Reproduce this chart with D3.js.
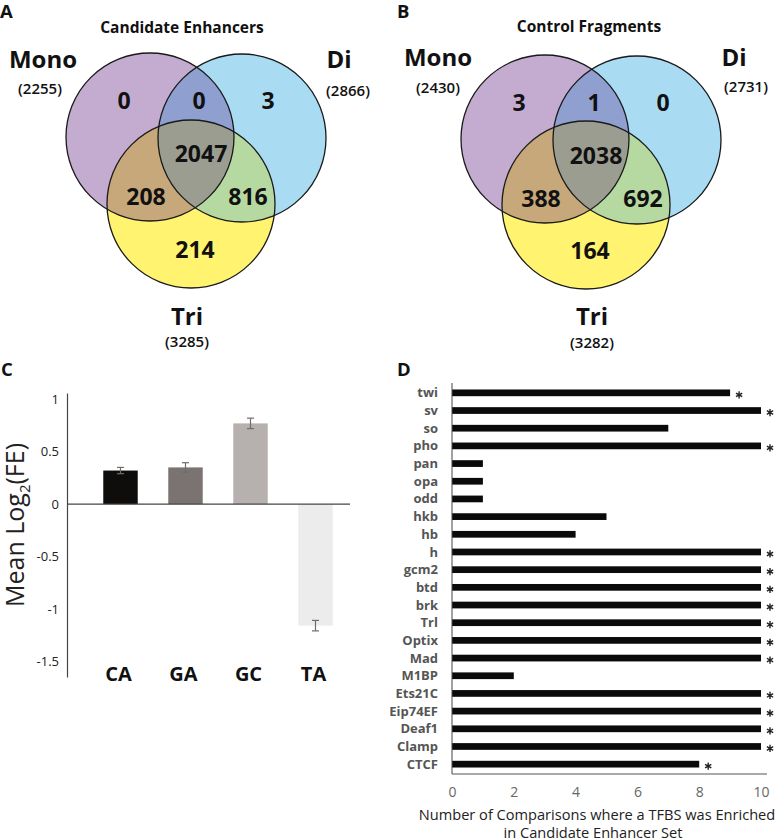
<!DOCTYPE html>
<html>
<head>
<meta charset="utf-8">
<script src="https://cdn.jsdelivr.net/npm/d3@7"></script>
<style>
  body { margin: 0; background: #fff; }
  svg { display: block; font-family: "Open Sans", "Liberation Sans", sans-serif; }
</style>
</head>
<body>
<script>
// ---- data ----
var setNames = ["Mono", "Di", "Tri"];
var totalsA = [2255, 2866, 3285];
var totalsB = [2430, 2731, 3282];
// region order: Mono only, Mono∩Di, Di only, Mono∩Tri, all three, Di∩Tri, Tri only
var regionKeys = ["M", "MD", "D", "MT", "MDT", "DT", "T"];
var countsA = [0, 0, 3, 208, 2047, 816, 214];
var countsB = [3, 1, 0, 388, 2038, 692, 164];

var dinucs = ["CA", "GA", "GC", "TA"];
var meanLog2FE = [0.32, 0.35, 0.77, -1.16];
var errLog2FE = [0.03, 0.045, 0.05, 0.05];
var yTicksC = [1, 0.5, 0, -0.5, -1, -1.5];

var tfbs = ["twi", "sv", "so", "pho", "pan", "opa", "odd", "hkb", "hb", "h", "gcm2",
  "btd", "brk", "Trl", "Optix", "Mad", "M1BP", "Ets21C", "Eip74EF", "Deaf1", "Clamp", "CTCF"];
var nComparisons = [9, 10, 7, 10, 1, 1, 1, 5, 4, 10, 10, 10, 10, 10, 10, 10, 2, 10, 10, 10, 10, 8];
var significant = [1, 1, 0, 1, 0, 0, 0, 0, 0, 1, 1, 1, 1, 1, 1, 1, 0, 1, 1, 1, 1, 1];
var xTicksD = [0, 2, 4, 6, 8, 10];

// ---- page ----
var svg = d3.select("body").append("svg")
  .attr("width", 775).attr("height", 840);

var bold = "700";

// panel letters
[["A", 0, 18], ["B", 397, 18], ["C", 1, 376], ["D", 397, 376]].forEach(function(p) {
  svg.append("text").attr("x", p[1]).attr("y", p[2])
    .attr("font-size", 18.5).attr("font-weight", bold).attr("fill", "#111")
    .text(p[0]);
});

// ---- Venn diagrams ----
var regionFill = {
  M: "#c4abd0", D: "#a9dcf2", T: "#fff36f",
  MD: "#8e9fd0", MT: "#c7a87a", DT: "#b6d9a1", MDT: "#9b9d91"
};
var vennId = 0;

function drawVenn(cfg) {
  var g = svg.append("g");
  var r = cfg.r;
  var c = cfg.centers; // Mono, Di, Tri
  var id = "v" + (vennId++);

  var defs = g.append("defs");
  c.forEach(function(p, i) {
    defs.append("clipPath").attr("id", id + "c" + i)
      .append("circle").attr("cx", p[0]).attr("cy", p[1]).attr("r", r);
  });

  // base fills
  ["M", "D", "T"].forEach(function(k, i) {
    g.append("circle").attr("cx", c[i][0]).attr("cy", c[i][1]).attr("r", r)
      .attr("fill", regionFill[k]);
  });
  // pairwise overlaps
  function overlap(a, b, col) {
    return g.append("g").attr("clip-path", "url(#" + id + "c" + a + ")")
      .append("circle").attr("cx", c[b][0]).attr("cy", c[b][1]).attr("r", r)
      .attr("fill", col);
  }
  overlap(0, 1, regionFill.MD);
  overlap(0, 2, regionFill.MT);
  overlap(1, 2, regionFill.DT);
  g.append("g").attr("clip-path", "url(#" + id + "c0)")
    .append("g").attr("clip-path", "url(#" + id + "c1)")
    .append("circle").attr("cx", c[2][0]).attr("cy", c[2][1]).attr("r", r)
    .attr("fill", regionFill.MDT);

  // outlines
  c.forEach(function(p) {
    g.append("circle").attr("cx", p[0]).attr("cy", p[1]).attr("r", r)
      .attr("fill", "none").attr("stroke", "#1a1a1a").attr("stroke-width", 1.3);
  });

  // region count positions from circle geometry
  var pos = {
    M: [c[0][0] - 26, c[0][1] - 36],
    MD: [(c[0][0] + c[1][0]) / 2 + 3, c[0][1] - 36],
    D: [c[1][0] + 26, c[1][1] - 37],
    MDT: [c[2][0] + 10, c[0][1] + 17],
    MT: [c[0][0] - 4, c[0][1] + 60],
    DT: [c[1][0] + 6, c[1][1] + 59],
    T: [c[2][0] + 4, c[2][1] + 46]
  };
  regionKeys.forEach(function(k, i) {
    g.append("text").attr("x", pos[k][0]).attr("y", pos[k][1])
      .attr("dy", "0.35em").attr("text-anchor", "middle")
      .attr("font-size", 23).attr("font-weight", bold).attr("fill", "#111")
      .text(d3.format("d")(cfg.counts[i]));
  });

  // title
  g.append("text").attr("x", cfg.title[1]).attr("y", cfg.title[2])
    .attr("text-anchor", "middle").attr("font-size", cfg.title[3]).attr("font-weight", bold)
    .attr("fill", "#111").text(cfg.title[0]);

  // set labels
  cfg.labels.forEach(function(l, i) {
    g.append("text").attr("x", l[0]).attr("y", l[1])
      .attr("text-anchor", "middle").attr("font-size", 24).attr("font-weight", bold)
      .attr("fill", "#111").text(setNames[i]);
    g.append("text").attr("x", l[2]).attr("y", l[3])
      .attr("text-anchor", "middle").attr("font-size", 15).attr("font-weight", "600")
      .attr("fill", "#111").text("(" + cfg.totals[i] + ")");
  });
}

drawVenn({
  r: 84,
  centers: [[150, 137], [242, 138], [191, 204]],
  counts: countsA, totals: totalsA,
  title: ["Candidate Enhancers", 182, 33, 15.5],
  labels: [[43, 68, 40, 94], [339, 68, 348, 96], [187, 325, 187, 347]]
});
drawVenn({
  r: 84,
  centers: [[545, 139], [637, 140], [586, 205]],
  counts: countsB, totals: totalsB,
  title: ["Control Fragments", 589, 32, 15.5],
  labels: [[438, 66, 438, 93], [734, 66, 746, 92], [592, 325, 592, 348]]
});

// ---- Panel C: dinucleotide bar chart ----
var yC = d3.scaleLinear().domain([-1.65, 1.06]).range([677, 393]);
var xC = d3.scaleBand().domain(dinucs).range([88, 348]).paddingInner(0.47).paddingOuter(0.235);
var colC = d3.scaleOrdinal().domain(dinucs).range(["#0e0d0b", "#7b7371", "#b6b1af", "#ececec"]);

var gC = svg.append("g");
gC.selectAll("rect.bar").data(dinucs).enter().append("rect")
  .attr("class", "bar")
  .attr("x", function(d) { return xC(d); })
  .attr("width", xC.bandwidth())
  .attr("y", function(d, i) { return yC(Math.max(0, meanLog2FE[i])); })
  .attr("height", function(d, i) { return Math.abs(yC(meanLog2FE[i]) - yC(0)); })
  .attr("fill", function(d) { return colC(d); });

// error bars
var eb = gC.selectAll("g.err").data(dinucs).enter().append("g").attr("class", "err")
  .attr("stroke", "#6d6d6d").attr("stroke-width", 1.2);
eb.append("line")
  .attr("x1", function(d) { return xC(d) + xC.bandwidth() / 2; })
  .attr("x2", function(d) { return xC(d) + xC.bandwidth() / 2; })
  .attr("y1", function(d, i) { return yC(meanLog2FE[i] + errLog2FE[i]); })
  .attr("y2", function(d, i) { return yC(meanLog2FE[i] - errLog2FE[i]); });
[1, -1].forEach(function(s) {
  eb.append("line")
    .attr("x1", function(d) { return xC(d) + xC.bandwidth() / 2 - 3.5; })
    .attr("x2", function(d) { return xC(d) + xC.bandwidth() / 2 + 3.5; })
    .attr("y1", function(d, i) { return yC(meanLog2FE[i] + s * errLog2FE[i]); })
    .attr("y2", function(d, i) { return yC(meanLog2FE[i] + s * errLog2FE[i]); });
});

// axes
var yAxisC = gC.append("g").attr("transform", "translate(67,0)")
  .call(d3.axisLeft(yC).tickValues(yTicksC).tickSize(0).tickPadding(8)
    .tickFormat(function(d) { return d === 0 ? "0" : String(d); }));
yAxisC.select(".domain").attr("stroke", "#444").attr("stroke-width", 1.2);
yAxisC.selectAll("text").attr("font-size", 13).attr("fill", "#222")
  .attr("font-family", "'Open Sans', sans-serif");

gC.append("line").attr("x1", 67).attr("x2", 350).attr("y1", yC(0)).attr("y2", yC(0))
  .attr("stroke", "#444").attr("stroke-width", 1.2);

gC.selectAll("text.cat").data(dinucs).enter().append("text")
  .attr("class", "cat")
  .attr("x", function(d) { return xC(d) + xC.bandwidth() / 2 - 2; })
  .attr("y", 681).attr("text-anchor", "middle")
  .attr("font-size", 20).attr("font-weight", bold).attr("fill", "#111")
  .text(function(d) { return d; });

var yTitle = gC.append("text")
  .attr("transform", "translate(24,525) rotate(-90)")
  .attr("text-anchor", "middle").attr("font-size", 25).attr("fill", "#222");
yTitle.append("tspan").text("Mean Log");
yTitle.append("tspan").attr("font-size", 15).attr("dy", 6).text("2");
yTitle.append("tspan").attr("dy", -6).text("(FE)");

// ---- Panel D: TFBS enrichment bars ----
var xD = d3.scaleLinear().domain([0, 10]).range([452, 761]);
var yD = d3.scaleBand().domain(tfbs).range([384, 773]).paddingInner(0.62).paddingOuter(0.31);

var gD = svg.append("g");
gD.selectAll("rect.tf").data(tfbs).enter().append("rect")
  .attr("class", "tf")
  .attr("x", xD(0))
  .attr("y", function(d) { return yD(d); })
  .attr("width", function(d, i) { return xD(nComparisons[i]) - xD(0); })
  .attr("height", yD.bandwidth())
  .attr("fill", "#0a0a0a");

// significance asterisks as symbol marks
var star = d3.symbol().type(d3.symbolAsterisk).size(36);
gD.selectAll("path.star").data(tfbs.filter(function(d, i) { return significant[i]; }))
  .enter().append("path")
  .attr("class", "star")
  .attr("d", star)
  .attr("transform", function(d) {
    return "translate(" + (xD(nComparisons[tfbs.indexOf(d)]) + 9) + "," +
      (yD(d) + yD.bandwidth() / 2 + 2) + ")";
  })
  .attr("fill", "none").attr("stroke", "#222").attr("stroke-width", 1.4);

gD.selectAll("text.tfl").data(tfbs).enter().append("text")
  .attr("class", "tfl")
  .attr("x", 438)
  .attr("y", function(d) { return yD(d) + yD.bandwidth() / 2; })
  .attr("dy", "0.35em").attr("text-anchor", "end")
  .attr("font-size", 13).attr("font-weight", bold).attr("fill", "#555")
  .text(function(d) { return d; });

gD.append("line").attr("x1", 452).attr("x2", 452).attr("y1", 383).attr("y2", 774)
  .attr("stroke", "#444").attr("stroke-width", 1);

var xAxisD = gD.append("g").attr("transform", "translate(0,774)")
  .call(d3.axisBottom(xD).tickValues(xTicksD).tickSize(0).tickPadding(13));
xAxisD.select(".domain").attr("d", "M452,0H767").attr("stroke", "#555").attr("stroke-width", 1);
xAxisD.selectAll("text").attr("font-size", 14).attr("fill", "#666")
  .attr("font-family", "'Open Sans', sans-serif");

gD.append("text").attr("x", 597).attr("y", 820).attr("text-anchor", "middle")
  .attr("font-size", 14.6).attr("fill", "#222")
  .text("Number of Comparisons where a TFBS was Enriched");
gD.append("text").attr("x", 593).attr("y", 838).attr("text-anchor", "middle")
  .attr("font-size", 14.6).attr("fill", "#222")
  .text("in Candidate Enhancer Set");
</script>
</body>
</html>
